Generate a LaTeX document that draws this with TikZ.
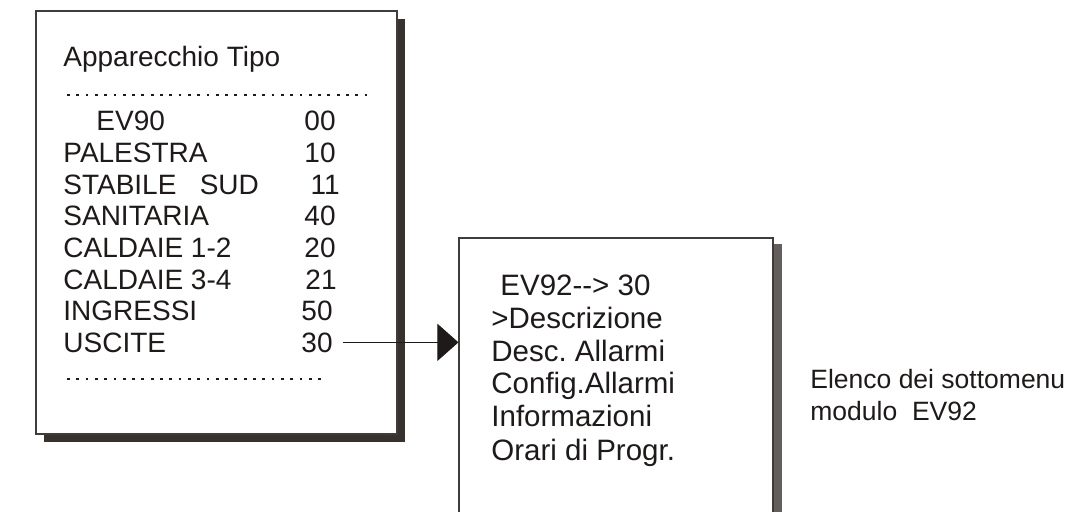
\documentclass[tikz,border=0pt]{standalone}
\usepackage{fontspec}
\setmainfont{Liberation Sans}
\usetikzlibrary{
    arrows.meta,
    positioning,
    shadows
}
\definecolor{InkBlack}{RGB}{30,26,25}
\definecolor{ShadowDark}{RGB}{56,50,46}
\definecolor{ShadowGray}{RGB}{100,94,92}
\tikzset{
  panel/.style    = {draw=InkBlack!85, line width=0.55pt, fill=white, inner sep=0pt},
  listpanel/.style = {panel, minimum width=180.5pt, minimum height=211.5pt,
                     drop shadow={shadow xshift=4pt, shadow yshift=-4pt,
                                  fill=ShadowDark, opacity=1}},
  menupanel/.style = {panel, minimum width=157pt, minimum height=145pt,
                     drop shadow={shadow xshift=4.5pt, shadow yshift=-3pt,
                                  fill=ShadowGray, opacity=1}},
  item/.style     = {anchor=base west, inner sep=0pt, text=InkBlack,
                     font=\fontsize{14}{16}\selectfont},
  code/.style     = {item, anchor=base east},
  entry/.style    = {item, font=\fontsize{14.75}{17}\selectfont},
  note/.style     = {item, font=\fontsize{13.25}{16}\selectfont},
  dots/.style     = {InkBlack, line width=1.4pt, dash pattern=on 1.4pt off 3.25pt},
  link/.style     = {-{Triangle[length=10.5pt,width=18.5pt]}, line width=0.5pt, InkBlack}
}
\frenchspacing

\begin{document}
\begin{tikzpicture}[x=0.5pt,y=-0.5pt]
\useasboundingbox (0,0) rectangle (1072,511);
\clip (0,0) rectangle (1072,511);
% panels
\node[listpanel] (listbox) at (216.5,222.5) {};
\node[menupanel] (menubox) at (616,383) {};
% list of devices
\node[item] (title) at (63,66) {Apparecchio Tipo};
\draw[dots] (67,95) -- (372,95);
\node[item] (n0) at (96,130) {EV90};
\node[code] (c0) at (336,130) {00};
\node[item] (n1) at (63,162) {PALESTRA};
\node[code] (c1) at (336,162) {10};
\node[item] (n2) at (63,194) {STABILE~~~SUD};
\node[code] (c2) at (340,194) {11};
\node[item] (n3) at (63,225) {SANITARIA};
\node[code] (c3) at (336,225) {40};
\node[item] (n4) at (63,257) {CALDAIE 1-2};
\node[code] (c4) at (336,257) {20};
\node[item] (n5) at (63,289) {CALDAIE 3-4};
\node[code] (c5) at (337,289) {21};
\node[item] (n6) at (63,320) {INGRESSI};
\node[code] (c6) at (333,320) {50};
\node[item] (n7) at (63,352) {USCITE};
\node[code] (c7) at (333,352) {30};
\draw[dots] (67,379) -- (327,379);
% submenu of the selected module
\node[entry] (m0) at (500,295) {EV92-{}-> 30};
\node[entry] (m1) at (491,328) {>Descrizione};
\node[entry] (m2) at (491,361) {Desc. Allarmi};
\node[entry] (m3) at (491,393) {Config.Allarmi};
\node[entry] (m4) at (491,426) {Informazioni};
\node[entry] (m5) at (491,460) {Orari di Progr.};
\draw[link] ([xshift=5pt]c7.east) -- (c7.east -| menubox.west);
% caption
\node[note] (cap1) at (810,388) {Elenco dei sottomenu};
\node[note] (cap2) at (810,420) {modulo~~EV92};
\end{tikzpicture}
\end{document}
